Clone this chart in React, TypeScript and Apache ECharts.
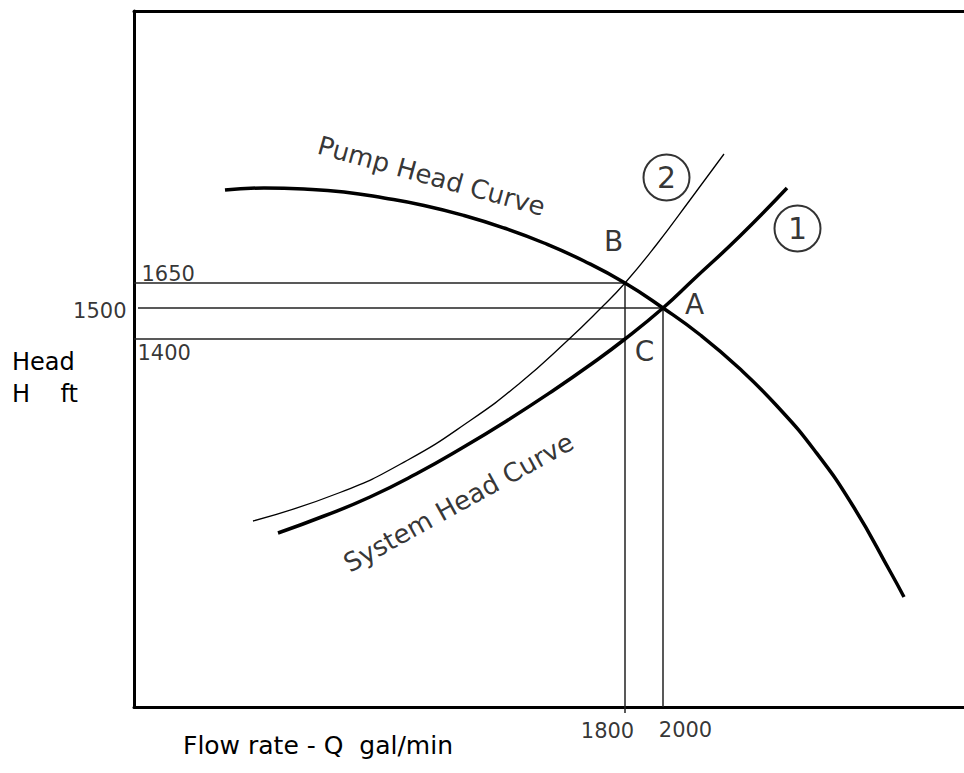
import React, { useEffect, useRef } from "react";
import * as echarts from "echarts";

// Schematic diagram units (x: flow position, y: head position)
const pumpCurve: number[][] = [
  [91, 517], [130, 519], [170, 518], [210, 515], [250, 509], [290, 501.5], [330, 491.5],
  [370, 479], [410, 464], [450, 446], [491, 424], [529, 399], [567, 371.5], [605, 339],
  [643, 301], [681, 256], [719, 201], [757, 134], [770, 110],
];
const systemCurve1: number[][] = [
  [144, 174], [190, 191], [236, 210], [282, 233], [328, 259], [374, 287], [420, 317],
  [456, 342], [491, 368], [529, 399], [559, 427], [606, 471], [653, 519],
];
const systemCurve2: number[][] = [
  [119, 186], [206, 214.5], [273, 246.5], [337, 287], [386, 324], [433, 366], [466, 398],
  [491, 424], [523, 463], [556, 507], [590, 553],
];
// Operating flows (Q = 1800 and 2000 gal/min) and head levels (1650, 1500, 1400 ft)
const flowLabels = ["1800", "2000"];
const flowPos = [491, 529];
const headLabels = ["1650", "1500", "1400"];
const headPos = [424, 399, 368];
const pointNames = ["B", "A", "C"];

const FONT = "DejaVu Sans, Verdana, sans-serif";

export default function App() {
  const ref = useRef<HTMLDivElement>(null);
  useEffect(() => {
    if (!ref.current) return;
    const chart = echarts.init(ref.current, null, { renderer: "svg" });
    const guide = { color: "#222", width: 1.5 };
    const lbl = (text: string, pos: number[], size: number, align = "center", extra: any = {}) => ({
      show: true,
      formatter: text,
      position: pos,
      align,
      verticalAlign: "middle",
      fontSize: size,
      fontFamily: FONT,
      color: "#000",
      ...extra,
    });
    const circleLbl = (text: string, pos: number[]) =>
      lbl(text, pos, 30, "center", {
        width: 46,
        height: 46,
        lineHeight: 46,
        borderColor: "#000",
        borderWidth: 2,
        borderRadius: 25,
      });
    const B = [flowPos[0], headPos[0]];
    const A = [flowPos[1], headPos[1]];
    const C = [flowPos[0], headPos[2]];
    const marks = [
      { value: [0, headPos[0]], label: lbl(headLabels[0], [8, -9], 21, "left") },
      { value: [0, headPos[1]], label: lbl(headLabels[1], [-7, 3], 21, "right") },
      { value: [0, headPos[2]], label: lbl(headLabels[2], [4, 14], 21, "left") },
      { value: [flowPos[0], 0], label: lbl(flowLabels[0], [-17, 24], 21) },
      { value: [flowPos[1], 0], label: lbl(flowLabels[1], [23, 23], 21) },
      { value: B, label: lbl(pointNames[0], [-11, -41], 28) },
      { value: A, label: lbl(pointNames[1], [32, -3], 28) },
      { value: C, label: lbl(pointNames[2], [20, 13], 28) },
      { value: systemCurve2[systemCurve2.length - 1], label: circleLbl("2", [-57, 24]) },
      { value: systemCurve1[systemCurve1.length - 1], label: circleLbl("1", [11, 41]) },
      { value: pumpCurve[6], label: lbl("Pump Head Curve", [-32, -39], 26, "center", { rotate: -15.5 }) },
      { value: systemCurve1[3], label: lbl("System Head Curve", [43, 29], 26, "center", { rotate: 29 }) },
    ];
    chart.setOption({
      animation: false,
      grid: { left: 134, right: 0, top: 11, bottom: 66 },
      xAxis: [
        {
          type: "value",
          min: 0,
          max: 830,
          axisLine: { show: true, onZero: false, lineStyle: { color: "#000", width: 3 } },
          axisTick: { show: true, customValues: [flowPos[0]], length: 6, lineStyle: { color: "#222", width: 1.5 } },
          axisLabel: { show: false },
          splitLine: { show: false },
        },
        {
          type: "value",
          position: "top",
          min: 0,
          max: 830,
          axisLine: { show: true, onZero: false, lineStyle: { color: "#000", width: 3 } },
          axisTick: { show: false },
          axisLabel: { show: false },
          splitLine: { show: false },
        },
      ],
      yAxis: {
        type: "value",
        min: 0,
        max: 696,
        axisLine: { show: true, onZero: false, lineStyle: { color: "#000", width: 3 } },
        axisTick: { show: false },
        axisLabel: { show: false },
        splitLine: { show: false },
      },
      graphic: [
        { type: "text", left: 12, top: 350, style: { text: "Head", font: `24px ${FONT}`, fill: "#000" } },
        { type: "text", left: 12, top: 382, style: { text: "H    ft", font: `24px ${FONT}`, fill: "#000" } },
        { type: "text", left: 183, top: 733, style: { text: "Flow rate - Q  gal/min", font: `25px ${FONT}`, fill: "#000" } },
      ],
      series: [
        { type: "line", data: [[0, headPos[0]], B], symbol: "none", lineStyle: guide, z: 1 },
        { type: "line", data: [[4, headPos[1]], A], symbol: "none", lineStyle: guide, z: 1 },
        { type: "line", data: [[0, headPos[2]], C], symbol: "none", lineStyle: guide, z: 1 },
        { type: "line", data: [B, [flowPos[0], 0]], symbol: "none", lineStyle: guide, z: 1 },
        { type: "line", data: [A, [flowPos[1], 0]], symbol: "none", lineStyle: guide, z: 1 },
        { type: "line", name: "Pump Head Curve", data: pumpCurve, smooth: 0.5, symbol: "none", lineStyle: { color: "#000", width: 3.5 }, z: 3 },
        { type: "line", name: "System Head Curve 1", data: systemCurve1, smooth: 0.5, symbol: "none", lineStyle: { color: "#000", width: 3.5 }, z: 3 },
        { type: "line", name: "System Head Curve 2", data: systemCurve2, smooth: 0.5, symbol: "none", lineStyle: { color: "#000", width: 1.3 }, z: 3 },
        {
          type: "scatter",
          data: marks,
          symbolSize: 1,
          itemStyle: { color: "rgba(0,0,0,0)" },
          z: 5,
          silent: true,
        },
      ],
    });
    return () => chart.dispose();
  }, []);
  return <div ref={ref} style={{ position: "fixed", left: 0, top: 0, width: 964, height: 773, background: "#fff" }} />;
}
